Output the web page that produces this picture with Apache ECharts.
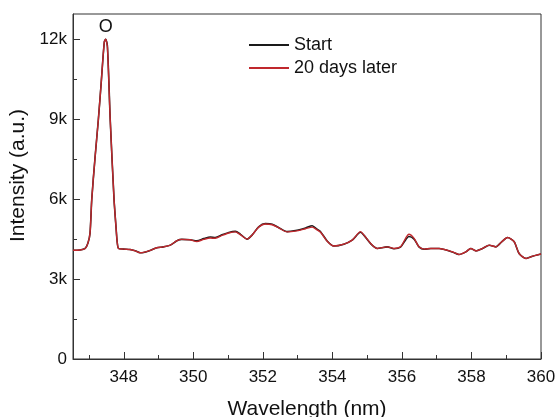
<!DOCTYPE html>
<html>
<head>
<meta charset="utf-8">
<script src="https://cdn.jsdelivr.net/npm/echarts@6/dist/echarts.min.js"></script>
<style>html,body{margin:0;padding:0;background:#fff}#c{width:555px;height:417px}</style>
</head>
<body>
<div id="c"></div>
<script>
// Wavelength (nm) sample positions
const wavelength = [346.54,346.74,346.89,346.97,347.03,347.08,347.17,347.27,347.35,347.44,347.48,347.53,347.61,347.72,347.78,347.81,347.85,
347.99,348.18,348.33,348.47,348.57,348.76,348.95,349.14,349.34,349.53,349.67,349.91,350.10,350.30,350.49,350.63,350.83,351.02,351.21,351.35,351.55,351.69,351.88,352.07,352.27,352.46,352.70,352.94,353.23,353.42,353.56,353.66,353.85,354.04,354.33,354.57,354.81,354.91,355.10,355.29,355.58,355.77,355.96,356.11,356.20,356.35,356.49,356.64,356.83,357.07,357.45,357.64,357.84,357.98,358.13,358.32,358.51,358.70,358.87,359.04,359.23,359.37,359.57,359.76,359.95,360.00];
// Intensity, Start
const startValues = [4080,4090,4150,4350,4725,6000,7500,9000,10350,11900,12000,11750,9000,6000,4900,4400,4150,
4125,4110,4060,3990,4000,4075,4175,4210,4275,4440,4490,4475,4440,4520,4580,4560,4660,4750,4790,4690,4500,4650,4960,5080,5060,4930,4780,4820,4920,5000,4870,4780,4430,4240,4310,4460,4760,4640,4330,4150,4210,4140,4200,4480,4600,4500,4210,4120,4150,4150,4020,3920,4020,4150,4060,4150,4270,4210,4400,4560,4400,3960,3775,3860,3925,3940,3950];
// Intensity, 20 days later
const laterValues = [4080,4090,4150,4350,4725,6000,7500,9000,10350,11900,12000,11700,9000,6000,4900,4400,4150,
4125,4110,4060,3990,4000,4075,4175,4210,4275,4440,4490,4475,4410,4490,4540,4530,4640,4730,4770,4670,4500,4650,4950,5070,5040,4920,4770,4800,4890,4950,4850,4760,4420,4240,4310,4460,4780,4650,4340,4150,4210,4150,4210,4540,4680,4530,4210,4125,4150,4150,4025,3925,4025,4150,4060,4150,4275,4210,4400,4560,4400,3960,3775,3860,3925,3940,3950];
const xMajorTicks = [348,350,352,354,356,358,360];
const xMinorTicks = [347,349,351,353,355,357,359];
const yMajorTicks = [0,3000,6000,9000,12000];
const yMinorTicks = [1500,4500,7500,10500];
const seriesNames = ['Start','20 days later'];
const peakLabel = {name:'O', coord:[347.48,12000]};

const xMin = 346.54, xMax = 360, yMin = 0, yMax = 12950;
const pair = (vals) => wavelength.map((w,i)=>[w, vals[i]]);
const fontFam = '"Liberation Sans", Arial, sans-serif';
const axisColor = '#333';

const chart = echarts.init(document.getElementById('c'), null, {renderer:'canvas'});
chart.setOption({
  animation:false,
  backgroundColor:'#fff',
  grid:{left:73, right:14, top:14, bottom:58, outerBoundsMode:'none', containLabel:false,
    show:true, borderColor:axisColor, borderWidth:1, backgroundColor:'transparent'},
  legend:{
    orient:'vertical', left:243, top:31, itemWidth:40, itemHeight:14, itemGap:5,
    itemStyle:{opacity:0},
    textStyle:{fontFamily:fontFam, fontSize:18, color:'#111'},
    data:seriesNames
  },
  xAxis:[{
    type:'value', min:xMin, max:xMax,
    name:'Wavelength (nm)', nameLocation:'middle', nameGap:40,
    nameTextStyle:{fontFamily:fontFam, fontSize:21, color:'#111'},
    axisLine:{lineStyle:{color:axisColor, width:1}},
    axisTick:{inside:true, length:7, customValues:xMajorTicks, lineStyle:{color:axisColor}},
    axisLabel:{customValues:xMajorTicks, margin:10, fontFamily:fontFam, fontSize:17, color:'#111'},
    splitLine:{show:false}
  },{
    type:'value', min:xMin, max:xMax, position:'bottom',
    axisLine:{show:false},
    axisTick:{inside:true, length:4, customValues:xMinorTicks, lineStyle:{color:axisColor}},
    axisLabel:{show:false}, splitLine:{show:false}
  }],
  yAxis:[{
    type:'value', min:yMin, max:yMax,
    name:'Intensity (a.u.)', nameLocation:'middle', nameGap:37,
    nameTextStyle:{fontFamily:fontFam, fontSize:21, color:'#111', padding:[0,0,0,22]},
    axisLine:{show:true, lineStyle:{color:axisColor, width:1}},
    axisTick:{show:true, inside:true, length:7, customValues:yMajorTicks, lineStyle:{color:axisColor}},
    axisLabel:{customValues:yMajorTicks, margin:6, fontFamily:fontFam, fontSize:17, color:'#111',
      formatter:(v)=> v===0 ? '0' : (v/1000)+'k'},
    splitLine:{show:false}
  },{
    type:'value', min:yMin, max:yMax, position:'left',
    axisLine:{show:false},
    axisTick:{show:true, inside:true, length:4, customValues:yMinorTicks, lineStyle:{color:axisColor}},
    axisLabel:{show:false}, splitLine:{show:false}
  }],
  series:[{
    name:seriesNames[0], type:'line', data:pair(startValues), showSymbol:false, symbol:'none',
    smooth:0.25, lineStyle:{color:'#1a1a1a', width:1.6}, itemStyle:{color:'#1a1a1a'}, z:2
  },{
    name:seriesNames[1], type:'line', data:pair(laterValues), showSymbol:false, symbol:'none',
    smooth:0.25, lineStyle:{color:'#c0282d', width:1.4}, itemStyle:{color:'#c0282d'}, z:3,
    markPoint:{
      symbol:'circle', symbolSize:1, itemStyle:{color:'rgba(0,0,0,0)'},
      label:{show:true, position:'top', distance:3, formatter:'{b}', fontFamily:fontFam, fontSize:18, color:'#111'},
      data:[{name:peakLabel.name, coord:peakLabel.coord}]
    }
  }]
});
</script>
</body>
</html>
